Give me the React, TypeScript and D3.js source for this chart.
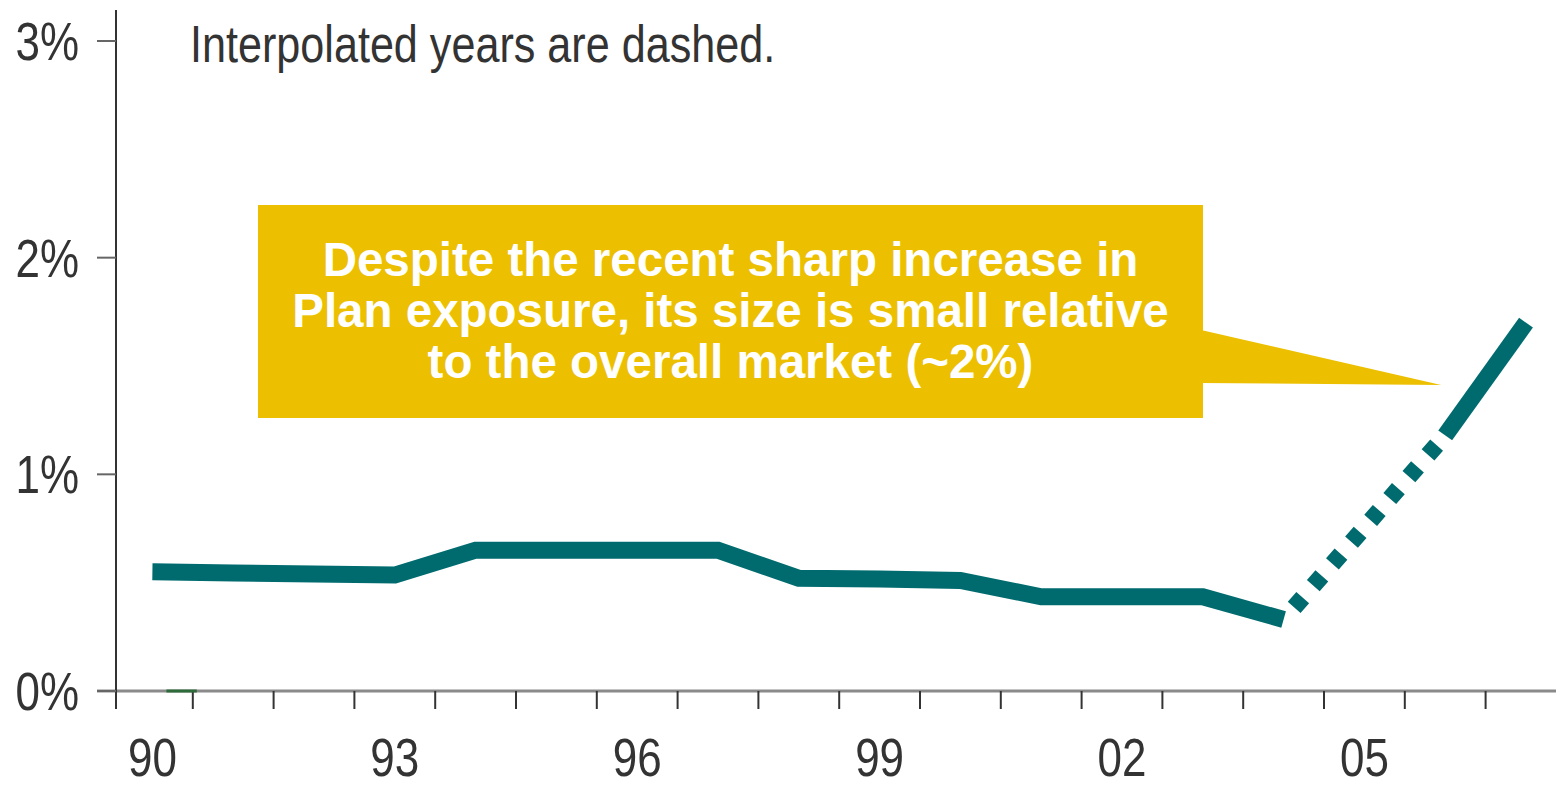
import React, { useEffect, useRef } from 'react';
import * as d3 from 'd3';

// plan exposure as % of overall market, by year
const years = [1990, 1991, 1992, 1993, 1994, 1995, 1996, 1997, 1998, 1999, 2000, 2001, 2002, 2003, 2004, 2005, 2006, 2007];
const exposure = [0.55, 0.545, 0.54, 0.535, 0.65, 0.65, 0.65, 0.65, 0.52, 0.517, 0.51, 0.435, 0.435, 0.435, 0.33, 0.755, 1.18, 1.7];
const interpolated = [2005];
const labeledYears = [1990, 1993, 1996, 1999, 2002, 2005];
const yTicks = [0, 1, 2, 3];
const noteText = 'Interpolated years are dashed.';
const calloutLines = [
  'Despite the recent sharp increase in',
  'Plan exposure, its size is small relative',
  'to the overall market (~2%)',
];

const W = 1556;
const H = 788;
const TEAL = '#006B6F';
const GOLD = '#ECC000';
const SANS = '"Liberation Sans", Arial, sans-serif';
const NARROW = 0.83; // the source uses a condensed face; squeeze regular sans to match

const App = () => {
  const svgRef = useRef<SVGSVGElement>(null);

  useEffect(() => {
    const svg = d3.select(svgRef.current);
    svg.selectAll('*').remove();
    svg.attr('width', W).attr('height', H);

    const x = d3.scaleBand<number>().domain(years).range([112, 112 + 80.8 * years.length]).paddingInner(0);
    const y = d3.scaleLinear().domain([0, 3]).range([691, 41]);
    const cx = (yr: number) => (x(yr) as number) + x.bandwidth() / 2;
    const axisX = 116;

    // x axis line
    svg.append('line')
      .attr('x1', 97).attr('x2', W)
      .attr('y1', y(0)).attr('y2', y(0))
      .attr('stroke', '#8a8a8a').attr('stroke-width', 3);

    // x ticks at band boundaries
    svg.append('g').selectAll('line')
      .data(years.slice(1))
      .enter().append('line')
      .attr('x1', d => x(d) as number).attr('x2', d => x(d) as number)
      .attr('y1', y(0)).attr('y2', y(0) + 18)
      .attr('stroke', '#333').attr('stroke-width', 2);

    svg.append('g').selectAll('text')
      .data(labeledYears)
      .enter().append('text')
      .attr('transform', d => `translate(${cx(d)},776) scale(${NARROW},1)`)
      .attr('text-anchor', 'middle')
      .attr('fill', '#333')
      .style('font-family', SANS)
      .style('font-size', '53px')
      .text(d => String(d).slice(2));

    // y axis
    svg.append('line')
      .attr('x1', axisX).attr('x2', axisX)
      .attr('y1', 10).attr('y2', y(0) + 18)
      .attr('stroke', '#333').attr('stroke-width', 2);

    const yg = svg.append('g');
    yg.selectAll('line')
      .data(yTicks)
      .enter().append('line')
      .attr('x1', 97).attr('x2', axisX)
      .attr('y1', d => y(d)).attr('y2', d => y(d))
      .attr('stroke', '#666').attr('stroke-width', 2);
    yg.selectAll('text')
      .data(yTicks)
      .enter().append('text')
      .attr('transform', d => `translate(79,${y(d) + 19}) scale(${NARROW},1)`)
      .attr('text-anchor', 'end')
      .attr('fill', '#333')
      .style('font-family', SANS)
      .style('font-size', '53px')
      .text(d => `${d}%`);

    // small green mark on the baseline at 1990
    svg.append('line')
      .attr('x1', cx(1990) + 14).attr('x2', (x(1990) as number) + x.bandwidth() + 4)
      .attr('y1', y(0)).attr('y2', y(0))
      .attr('stroke', '#2e6b3a').attr('stroke-width', 3);

    // note
    svg.append('text')
      .attr('transform', `translate(190,62) scale(${NARROW},1)`)
      .attr('fill', '#333')
      .style('font-family', SANS)
      .style('font-size', '52px')
      .text(noteText);

    // line, split into solid / dashed runs
    const pts = years.map((yr, i) => ({ year: yr, v: exposure[i] }));
    const runs: { dashed: boolean; pts: typeof pts }[] = [];
    for (let i = 0; i < pts.length - 1; i++) {
      const dashed = interpolated.includes(pts[i].year) || interpolated.includes(pts[i + 1].year);
      const last = runs[runs.length - 1];
      if (last && last.dashed === dashed) last.pts.push(pts[i + 1]);
      else runs.push({ dashed, pts: [pts[i], pts[i + 1]] });
    }
    const line = d3.line<{ year: number; v: number }>().x(d => cx(d.year)).y(d => y(d.v));

    svg.append('g').selectAll('path')
      .data(runs)
      .enter().append('path')
      .attr('d', d => line(d.pts))
      .attr('fill', 'none')
      .attr('stroke', TEAL)
      .attr('stroke-width', 17)
      .attr('stroke-linejoin', 'miter')
      .attr('stroke-linecap', 'butt')
      .attr('stroke-dasharray', d => (d.dashed ? '13,16' : null))
      .attr('stroke-dashoffset', d => (d.dashed ? 13 : null));

    // callout
    const box = { x0: 258, x1: 1203, y0: 205, y1: 418 };
    const tipYear = 2006;
    svg.append('path')
      .attr('d', `M${box.x1 - 2},330 L${cx(tipYear) - 4},385 L${box.x1 - 2},383 Z`)
      .attr('fill', GOLD);
    svg.append('rect')
      .attr('x', box.x0).attr('y', box.y0)
      .attr('width', box.x1 - box.x0).attr('height', box.y1 - box.y0)
      .attr('fill', GOLD);
    svg.append('g').selectAll('text')
      .data(calloutLines)
      .enter().append('text')
      .attr('x', (box.x0 + box.x1) / 2)
      .attr('y', (d, i) => 276 + i * 51)
      .attr('text-anchor', 'middle')
      .attr('fill', '#fff')
      .style('font-family', SANS)
      .style('font-weight', 'bold')
      .style('font-size', '47.5px')
      .text(d => d);
  }, []);

  return (
    <div style={{ position: 'fixed', left: 0, top: 0, width: W, height: H, background: '#fff' }}>
      <svg ref={svgRef} style={{ display: 'block' }}></svg>
    </div>
  );
};

export default App;
